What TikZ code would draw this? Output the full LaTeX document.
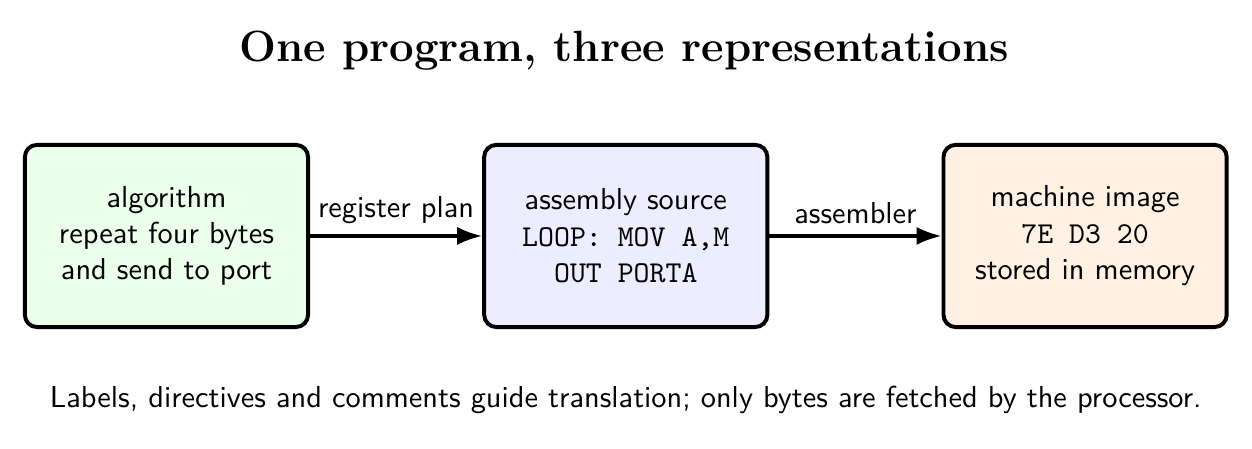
\documentclass[tikz,border=0pt]{standalone}
\usetikzlibrary{arrows.meta}

\begin{document}
\begin{tikzpicture}[
    stage/.style={draw,line width=1.3pt,rounded corners=4pt,minimum width=3.28cm,
      minimum height=2.11cm,align=center,font=\sffamily},
    flow/.style={-{Latex[length=2.9mm,width=2.1mm]},line width=1.1pt},
    flowlabel/.style={above,font=\sffamily}
  ]
  \useasboundingbox (-1.928,-2.467) rectangle (12.573,2.733);

  \node[font=\Large\bfseries] (title) at (5.3,2.15) {One program, three representations};

  \node[stage,fill=green!8] (algo) at (0,0)
    {algorithm\\repeat four bytes\\and send to port};
  \node[stage,fill=blue!7] (source) at (5.32,0)
    {assembly source\\\texttt{LOOP: MOV A,M}\\\texttt{OUT PORTA}};
  \node[stage,fill=orange!11] (image) at (10.64,0)
    {machine image\\\texttt{7E D3 20}\\stored in memory};

  \draw[flow] (algo) -- node[flowlabel] {register plan} (source);
  \draw[flow] (source) -- node[flowlabel] {assembler} (image);

  \node[font=\sffamily] (note) at (5.32,-1.9)
    {Labels, directives and comments guide translation; only bytes are fetched by the processor.};
\end{tikzpicture}
\end{document}
